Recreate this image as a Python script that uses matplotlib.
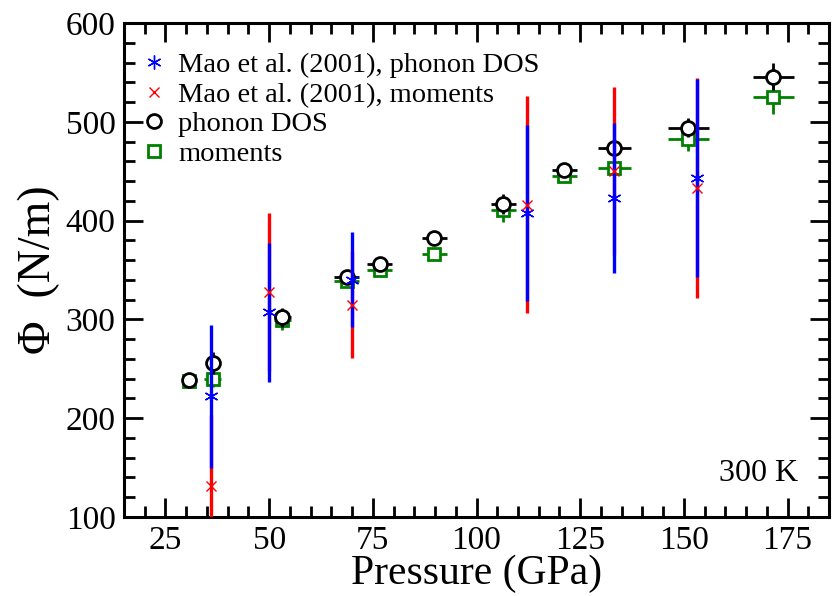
import matplotlib
matplotlib.use("Agg")
import matplotlib.pyplot as plt
from matplotlib.lines import Line2D
from matplotlib.ticker import MultipleLocator

plt.rcParams['font.family'] = ['Liberation Serif', 'DejaVu Serif']

# calculated force constants, phonon DOS route
p_dos = [30.7, 36.4, 53.2, 68.7, 76.7, 89.8, 106.5, 121.2, 133.2, 151.1, 171.6]
phi_dos = [239, 255.5, 302, 342.6, 356, 382, 417, 451, 473, 494, 545.7]
p_dos_err = [1.5, 1.5, 2, 3, 3, 3, 3, 3, 4, 5, 5]
phi_dos_err = [3, 11, 10, 7, 4, 4, 10, 5, 8, 9.5, 14]

# calculated force constants, moments route
p_mom = [30.7, 36.4, 53.2, 68.7, 76.7, 89.8, 106.5, 121.2, 133.2, 151.1, 171.6]
phi_mom = [238, 240, 299, 339, 349.5, 366, 410.5, 445, 453, 482.3, 525.4]
p_mom_err = [1.5, 2, 2, 3, 3, 3, 3, 3, 4, 5, 5]
phi_mom_err = [3, 8, 10, 6, 4, 6, 12, 5, 6, 11.5, 17.5]

# Mao et al. (2001)
p_mao = [36.0, 50.0, 70.0, 112.1, 133.2, 153.2]
phi_mao_dos = [222, 307, 340, 408, 423, 443]
phi_mao_dos_err = [72, 70, 48, 89, 76, 100]
phi_mao_mom = [131, 328, 315, 416, 450, 433]
phi_mao_mom_err = [72, 80, 54, 110, 85, 111]

star = (6, 2, 0)

fig = plt.figure(figsize=(8.34, 5.96), dpi=100)
ax = fig.add_axes([0.1487, 0.1326, 0.8453, 0.8288])

ax.errorbar(p_mom, phi_mom, xerr=p_mom_err, yerr=phi_mom_err, fmt='s',
            color='green', mfc='white', mec='green', ms=9, mew=2,
            elinewidth=2, capsize=0, zorder=2)
ax.errorbar(p_dos, phi_dos, xerr=p_dos_err, yerr=phi_dos_err, fmt='o',
            color='black', mfc='white', mec='black', ms=10, mew=2,
            elinewidth=2, capsize=0, zorder=3)
ax.errorbar(p_mao, phi_mao_mom, yerr=phi_mao_mom_err, fmt='none',
            ecolor='red', elinewidth=2.4, capsize=0, zorder=4)
ax.errorbar(p_mao, phi_mao_dos, yerr=phi_mao_dos_err, fmt='none',
            ecolor='blue', elinewidth=2.4, capsize=0, zorder=5)
ax.plot(p_mao, phi_mao_dos, ls='none', marker=star, color='blue',
        ms=10, mew=1, zorder=6)
ax.plot(p_mao, phi_mao_mom, ls='none', marker='x', color='red', ms=7,
        mew=1, zorder=6)

ax.set_xlim(15, 185)
ax.set_ylim(100, 600)
ax.xaxis.set_major_locator(MultipleLocator(25))
ax.xaxis.set_minor_locator(MultipleLocator(5))
ax.yaxis.set_major_locator(MultipleLocator(100))
ax.yaxis.set_minor_locator(MultipleLocator(20))
ax.tick_params(which='both', direction='in', top=True, right=True,
               width=2, labelsize=24)
ax.tick_params(which='major', length=14, pad=6)
ax.tick_params(which='minor', length=8)
for s in ax.spines.values():
    s.set_linewidth(2.2)

ax.set_xlabel('Pressure (GPa)', fontsize=30, labelpad=-1)
ax.set_ylabel('Φ  (N/m)', fontsize=33, labelpad=4)
ax.text(0.956, 0.059, '300 K', transform=ax.transAxes, ha='right',
        va='bottom', fontsize=23)

handles = [
    Line2D([], [], ls='none', marker=star, color='blue', ms=10, mew=1),
    Line2D([], [], ls='none', marker='x', color='red', ms=7, mew=1),
    Line2D([], [], ls='none', marker='o', mfc='white', mec='black', ms=10, mew=2),
    Line2D([], [], ls='none', marker='s', mfc='white', mec='green', ms=9, mew=2),
]
labels = ['Mao et al. (2001), phonon DOS', 'Mao et al. (2001), moments',
          'phonon DOS', 'moments']
ax.legend(handles, labels, loc='upper left', bbox_to_anchor=(0.01, 0.964),
          frameon=False, fontsize=20.5, handlelength=0.8, handletextpad=0.45,
          labelspacing=0.13, borderaxespad=0.0)

fig.savefig('out.png', dpi=100)
